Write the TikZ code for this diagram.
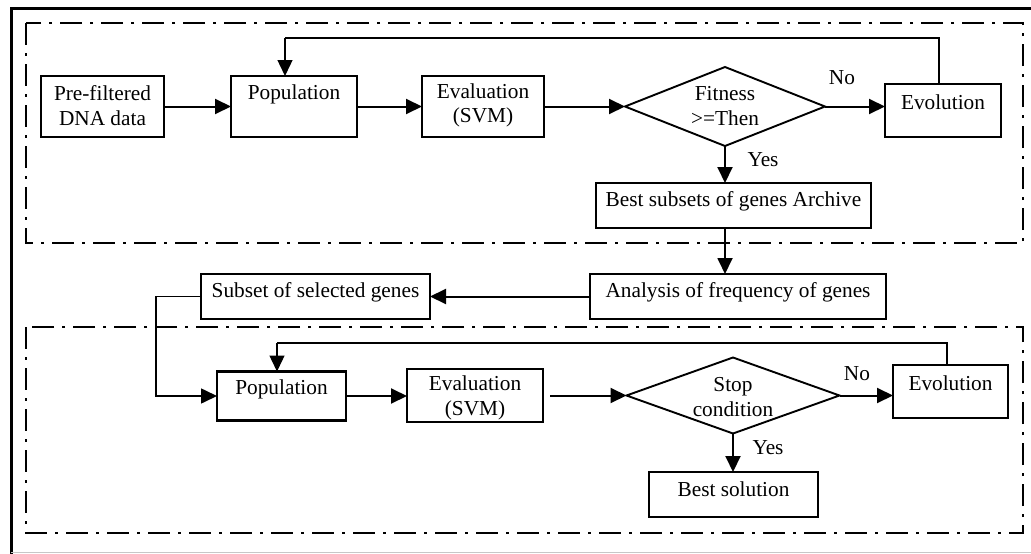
\documentclass[tikz,border=0pt]{standalone}
\usepackage{fontspec}
\setmainfont{Liberation Serif}
\usetikzlibrary{arrows.meta,shapes.geometric}
\begin{document}
\begin{tikzpicture}[x=1pt,y=-1pt,
  box/.style={draw,line width=2.3pt,inner sep=0pt,outer sep=0pt},
  dia/.style={draw,diamond,line width=1.9pt,inner sep=0pt,outer sep=0pt},
  txt/.style={inner sep=0pt,align=center,font=\fontsize{21.3}{24.5}\selectfont},
  tip/.style={-{Triangle[length=16pt,width=15pt]}},
  flow/.style={tip,line width=2pt},
  fb/.style={line width=1.4pt},
  region/.style={line width=2.3pt,dash pattern=on 22pt off 8pt on 3pt off 8pt},
]
\useasboundingbox (0,0) rectangle (1031,554);

% outer frame
\draw[line width=3pt] (11,556) -- (11,8) -- (1033,8);
\draw[black!22,line width=1.2pt] (11,552.5) -- (1031,552.5);

% dash-dotted regions of the two searches
\draw[region] (26,23) rectangle (1023,243);
\draw[region] (26,327) rectangle (1023,533);

% first search
\node[box,minimum width=123pt,minimum height=61pt] (pre) at (102.5,106.5) {};
\node[txt] (pret) at (102.5,105.5) {Pre-filtered\\DNA data};
\node[box,minimum width=126pt,minimum height=61pt] (pop1) at (294,106.5) {};
\node[txt] (pop1t) at (294,94) {Population};
\node[box,minimum width=122pt,minimum height=61pt] (eval1) at (483,106.5) {};
\node[txt] (eval1t) at (483,105.5) {Evaluation\\(SVM)};
\node[dia,minimum width=200pt,minimum height=79pt] (fit) at (725,106.5) {};
\node[txt] (fitt) at (725,106) {Fitness\\>=Then};
\node[box,minimum width=116pt,minimum height=53pt] (evo1) at (943,110.5) {};
\node[txt] (evo1t) at (943,102) {Evolution};
\node[box,minimum width=275pt,minimum height=45pt] (best) at (733.5,205.5) {};
\node[txt] (bestt) at (733.5,201) {Best subsets of genes Archive};
\node[txt] (no1) at (842,78) {No};
\node[txt] (yes1) at (763,160) {Yes};

\draw[flow] (pre.east) -- (pop1.west);
\draw[flow] (pop1.east) -- (eval1.west);
\draw[flow] (eval1.east) -- (fit.west);
\draw[flow] (fit.east) -- (fit.east -| evo1.west);
\draw[flow] (fit.south) -- (fit.south |- best.north);
\draw[fb] ([xshift=-4pt]evo1.north) -- ([xshift=-4pt]evo1.north |- 0,38)
  -- ([xshift=-9pt]pop1.north |- 0,38);
\draw[fb,tip] ([xshift=-9pt]pop1.north |- 0,38) -- ([xshift=-9pt]pop1.north);

% gene frequency analysis
\node[box,minimum width=296pt,minimum height=45pt] (anal) at (738,296.5) {};
\node[txt] (analt) at (738,292) {Analysis of frequency of genes};
\node[box,minimum width=229pt,minimum height=45pt] (subset) at (315.5,296.5) {};
\node[txt] (subsett) at (315.5,292) {Subset of selected genes};
\draw[flow,line width=1.8pt] (fit.south |- best.south) -- (fit.south |- anal.north);
\draw[flow] (anal.west) -- (subset.east);

% second search
\node[box,minimum width=129pt,minimum height=49pt] (pop2) at (281.5,396) {};
\node[txt] (pop2t) at (281.5,389) {Population};
\node[box,minimum width=136pt,minimum height=53pt] (eval2) at (475,395.5) {};
\node[txt] (eval2t) at (475,398) {Evaluation\\(SVM)};
\node[dia,minimum width=213pt,minimum height=76pt] (stop) at (733,395.5) {};
\node[txt] (stopt) at (733,397) {Stop\\condition};
\node[box,minimum width=115pt,minimum height=53pt] (evo2) at (950.5,391.5) {};
\node[txt] (evo2t) at (950.5,383) {Evolution};
\node[box,minimum width=169pt,minimum height=45pt] (bsol) at (733.5,494.5) {};
\node[txt] (bsolt) at (733.5,489) {Best solution};
\node[txt] (no2) at (857,374) {No};
\node[txt] (yes2) at (768,448) {Yes};

\draw[fb,line width=1.6pt,tip] (subset.west) -- (156,296.5) |- (pop2.west);
\draw[flow] (pop2.east) -- (pop2.east -| eval2.west);
\draw[flow,shorten <=7pt] (eval2.east) -- (stop.west);
\draw[flow] (stop.east) -- (stop.east -| evo2.west);
\draw[flow] (stop.south) -- (stop.south |- bsol.north);
\draw[fb] ([xshift=-3.5pt]evo2.north) -- ([xshift=-3.5pt]evo2.north |- 0,343)
  -- ([xshift=-4.5pt]pop2.north |- 0,343);
\draw[fb,tip] ([xshift=-4.5pt]pop2.north |- 0,343) -- ([xshift=-4.5pt]pop2.north);
\end{tikzpicture}
\end{document}
